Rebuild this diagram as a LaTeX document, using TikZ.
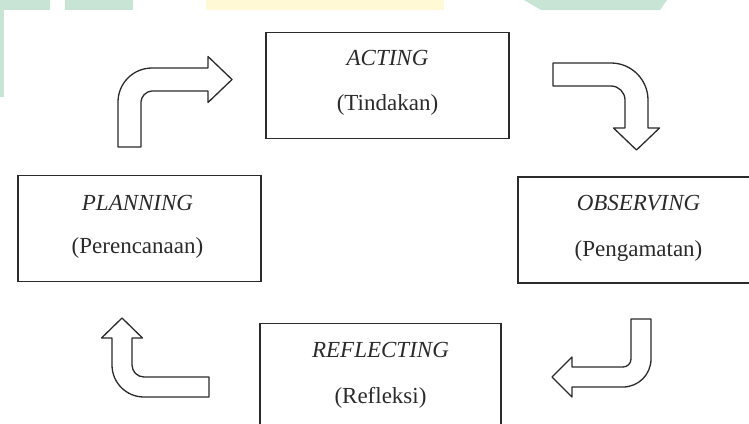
\documentclass[tikz,border=0pt]{standalone}
\usepackage{fontspec}
\setmainfont{Liberation Serif}
\definecolor{ink}{HTML}{2B2B2B}
\definecolor{wmgreen}{RGB}{200,228,213}
\definecolor{wmyellow}{RGB}{255,249,214}
\tikzset{
  stagebox/.style={draw=ink, line width=1.6pt, minimum width=243pt, minimum height=106pt, inner sep=0pt},
  stagetext/.style={anchor=base, text=ink, font=\fontsize{23}{26}\selectfont, inner sep=0pt},
  blockarrow/.style={draw=ink, line width=1.3pt, line join=round, fill=white}
}
\begin{document}
\begin{tikzpicture}[x=1pt,y=-1pt]
\clip (0,0) rectangle (749,423);
\fill[white] (0,0) rectangle (749,423);
% faint watermark
\fill[wmgreen] (0,0) rectangle (50,10);
\fill[wmgreen] (65,0) rectangle (133,10);
\fill[wmgreen] (0,10) rectangle (4,97);
\fill[wmyellow] (206,0) rectangle (444,10);
\fill[wmgreen] (524,0) -- (541,10) -- (660,10) -- (667,0) -- cycle;
% stage boxes
\node[stagebox] (acting) at (387.5,85.5) {};
\node[stagebox] (planning) at (139.5,228.5) {};
\node[stagebox] (observing) at (639.5,230) {};
\node[stagebox, minimum width=241pt] (reflecting) at (380.5,376.5) {};
% texts
\node[stagetext] (t1) at (387.5,65) {\itshape ACTING};
\node[stagetext] (t2) at (387.5,110) {(Tindakan)};
\node[stagetext] (t3) at (137.5,210) {\itshape PLANNING};
\node[stagetext] (t4) at (137.5,253) {(Perencanaan)};
\node[stagetext] (t5) at (638.5,210) {\itshape OBSERVING};
\node[stagetext] (t6) at (638.5,256) {(Pengamatan)};
\node[stagetext] (t7) at (380.5,357) {\itshape REFLECTING};
\node[stagetext] (t8) at (380.5,403) {(Refleksi)};
% block arrows
\draw[blockarrow] (118,147) -- (118,102) .. controls (118,83.2) and (133.2,68) .. (152,68)
  -- (208,68) -- (208,56.5) -- (232,79.5) -- (208,102.5) -- (208,91) -- (152,91)
  .. controls (145.9,91) and (141,96.9) .. (141,102) -- (141,147) -- cycle;
\draw[blockarrow] (553,63) -- (611,63) .. controls (631.4,63) and (648,79.6) .. (648,100)
  -- (648,128) -- (659.5,128) -- (636.5,150) -- (613.5,128) -- (625,128) -- (625,100)
  .. controls (625,92.3) and (618.7,86) .. (611,86) -- (553,86) -- cycle;
\draw[blockarrow] (209,397) -- (144,397) .. controls (126.3,397) and (112,382.7) .. (112,365)
  -- (112,338) -- (101.5,338) -- (122,318) -- (142.5,338) -- (132,338) -- (132,365)
  .. controls (132,371.6) and (137.4,377) .. (144,377) -- (209,377) -- cycle;
\draw[blockarrow] (631,319) -- (651,319) -- (651,359) .. controls (651,374.5) and (638.5,387) .. (623,387)
  -- (572,387) -- (572,397) -- (552,377) -- (572,357) -- (572,367) -- (623,367)
  .. controls (627.4,367) and (631,363.4) .. (631,359) -- cycle;
\end{tikzpicture}
\end{document}
